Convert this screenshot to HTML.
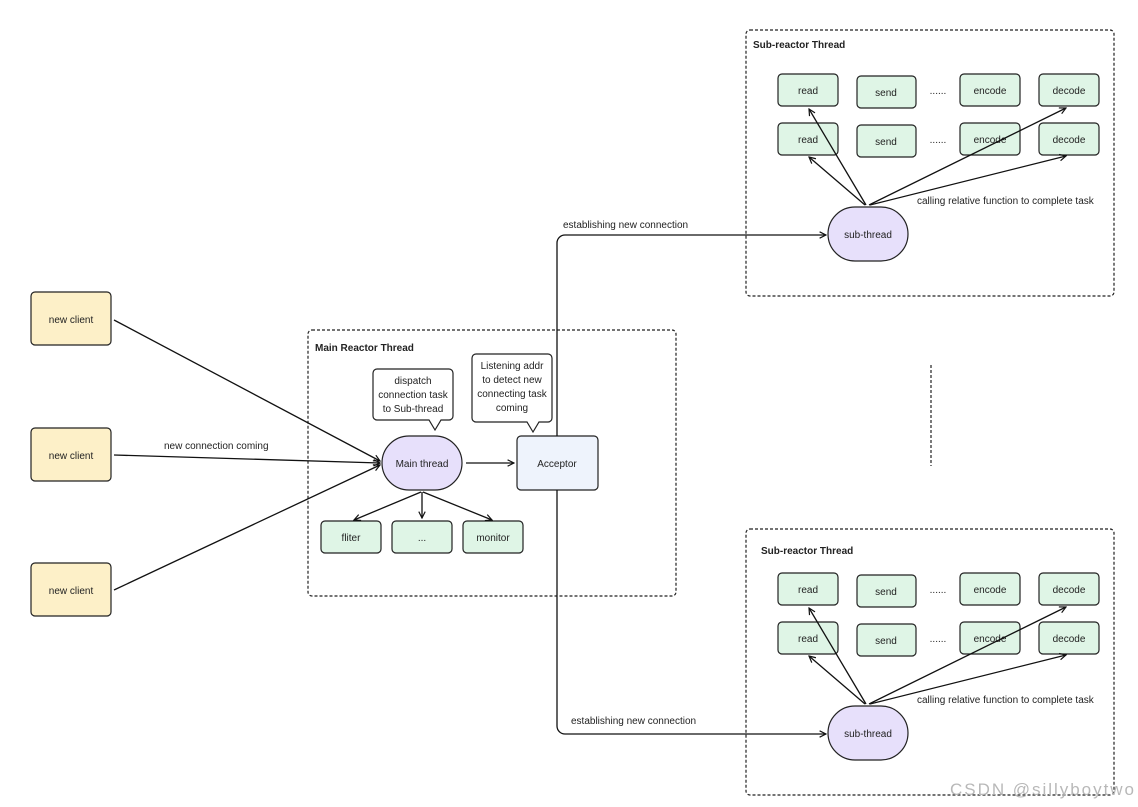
<!DOCTYPE html>
<html><head><meta charset="utf-8"><style>
html,body{margin:0;padding:0;background:#fff;}
svg{display:block;font-family:"Liberation Sans","DejaVu Sans",sans-serif;}
text{font-size:10px;fill:#222;}
.b{font-weight:bold;font-size:10px;}
</style></head><body>
<svg width="1138" height="807" viewBox="0 0 1138 807" xmlns="http://www.w3.org/2000/svg">
<defs>
<marker id="a" viewBox="0 0 10 10" refX="9" refY="5" markerWidth="8" markerHeight="8" orient="auto" markerUnits="userSpaceOnUse">
<path d="M1,1 L9,5 L1,9" fill="none" stroke="#111" stroke-width="1.5"/>
</marker>
<g id="sub">
<rect x="746" y="30" width="368" height="266" rx="4" fill="none" stroke="#222" stroke-width="1.2" stroke-dasharray="3,2"/>
<g fill="#dff5e6" stroke="#222" stroke-width="1.2">
<rect x="778" y="74" width="60" height="32" rx="4"/>
<rect x="857" y="76" width="59" height="32" rx="4"/>
<rect x="960" y="74" width="60" height="32" rx="4"/>
<rect x="1039" y="74" width="60" height="32" rx="4"/>
<rect x="778" y="123" width="60" height="32" rx="4"/>
<rect x="857" y="125" width="59" height="32" rx="4"/>
<rect x="960" y="123" width="60" height="32" rx="4"/>
<rect x="1039" y="123" width="60" height="32" rx="4"/>
</g>
<g text-anchor="middle">
<text x="808" y="94">read</text><text x="886" y="96">send</text><text x="990" y="94">encode</text><text x="1069" y="94">decode</text>
<text x="808" y="143">read</text><text x="886" y="145">send</text><text x="990" y="143">encode</text><text x="1069" y="143">decode</text>
<text x="938" y="94">......</text><text x="938" y="143">......</text>
</g>
<rect x="828" y="207" width="80" height="54" rx="27" fill="#e7e0fb" stroke="#222" stroke-width="1.2"/>
<text x="868" y="238" text-anchor="middle">sub-thread</text>
<g stroke="#111" stroke-width="1.3" fill="none" marker-end="url(#a)">
<line x1="866" y1="205" x2="809" y2="109"/>
<line x1="865" y1="205" x2="809" y2="157"/>
<line x1="869" y1="205" x2="1066" y2="108"/>
<line x1="870" y1="205" x2="1066" y2="156"/>
</g>
<text x="917" y="204">calling relative function to complete task</text>
</g>
</defs>
<use href="#sub"/>
<use href="#sub" transform="translate(0,499)"/>
<text x="753" y="48" class="b">Sub-reactor Thread</text>
<text x="761" y="554" class="b">Sub-reactor Thread</text>

<!-- Main reactor -->
<rect x="308" y="330" width="368" height="266" rx="4" fill="none" stroke="#222" stroke-width="1.2" stroke-dasharray="3,2"/>
<text x="315" y="351" class="b">Main Reactor Thread</text>

<path d="M377,369 H449 a4,4 0 0 1 4,4 V416 a4,4 0 0 1 -4,4 H441 L435,430 L429,420 H377 a4,4 0 0 1 -4,-4 V373 a4,4 0 0 1 4,-4 Z" fill="#fff" stroke="#222" stroke-width="1.2"/>
<g text-anchor="middle"><text x="413" y="384">dispatch</text><text x="413" y="398">connection task</text><text x="413" y="412">to Sub-thread</text></g>
<path d="M476,354 H548 a4,4 0 0 1 4,4 V418 a4,4 0 0 1 -4,4 H539 L533,432 L527,422 H476 a4,4 0 0 1 -4,-4 V358 a4,4 0 0 1 4,-4 Z" fill="#fff" stroke="#222" stroke-width="1.2"/>
<g text-anchor="middle"><text x="512" y="369">Listening addr</text><text x="512" y="383">to detect new</text><text x="512" y="397">connecting task</text><text x="512" y="411">coming</text></g>

<rect x="382" y="436" width="80" height="54" rx="27" fill="#e7e0fb" stroke="#222" stroke-width="1.2"/>
<text x="422" y="467" text-anchor="middle">Main thread</text>
<rect x="517" y="436" width="81" height="54" rx="4" fill="#eef3fc" stroke="#222" stroke-width="1.2"/>
<text x="557" y="467" text-anchor="middle">Acceptor</text>

<g fill="#dff5e6" stroke="#222" stroke-width="1.2">
<rect x="321" y="521" width="60" height="32" rx="4"/>
<rect x="392" y="521" width="60" height="32" rx="4"/>
<rect x="463" y="521" width="60" height="32" rx="4"/>
</g>
<g text-anchor="middle"><text x="351" y="541">fliter</text><text x="422" y="541">...</text><text x="493" y="541">monitor</text></g>

<!-- clients -->
<g fill="#fdf0c8" stroke="#222" stroke-width="1.2">
<rect x="31" y="292" width="80" height="53" rx="4"/>
<rect x="31" y="428" width="80" height="53" rx="4"/>
<rect x="31" y="563" width="80" height="53" rx="4"/>
</g>
<g text-anchor="middle"><text x="71" y="323">new client</text><text x="71" y="459">new client</text><text x="71" y="594">new client</text></g>
<text x="164" y="449">new connection coming</text>

<g stroke="#111" stroke-width="1.3" fill="none" marker-end="url(#a)">
<line x1="114" y1="320" x2="380" y2="461"/>
<line x1="114" y1="455" x2="380" y2="463"/>
<line x1="114" y1="590" x2="380" y2="465"/>
<line x1="466" y1="463" x2="514" y2="463"/>
<line x1="421" y1="492" x2="354" y2="520"/>
<line x1="422" y1="492" x2="422" y2="518"/>
<line x1="423" y1="492" x2="492" y2="520"/>
<path d="M557,436 V243 a8,8 0 0 1 8,-8 H826"/>
<path d="M557,490 V726 a8,8 0 0 0 8,8 H826"/>
</g>
<text x="563" y="228">establishing new connection</text>
<text x="571" y="724">establishing new connection</text>

<line x1="931" y1="365" x2="931" y2="466" stroke="#222" stroke-width="1.2" stroke-dasharray="3,2"/>
<text x="950" y="795" style="font-size:17px;fill:#b8b8b8" textLength="184">CSDN @sillyboytwo</text>
</svg>
</body></html>
